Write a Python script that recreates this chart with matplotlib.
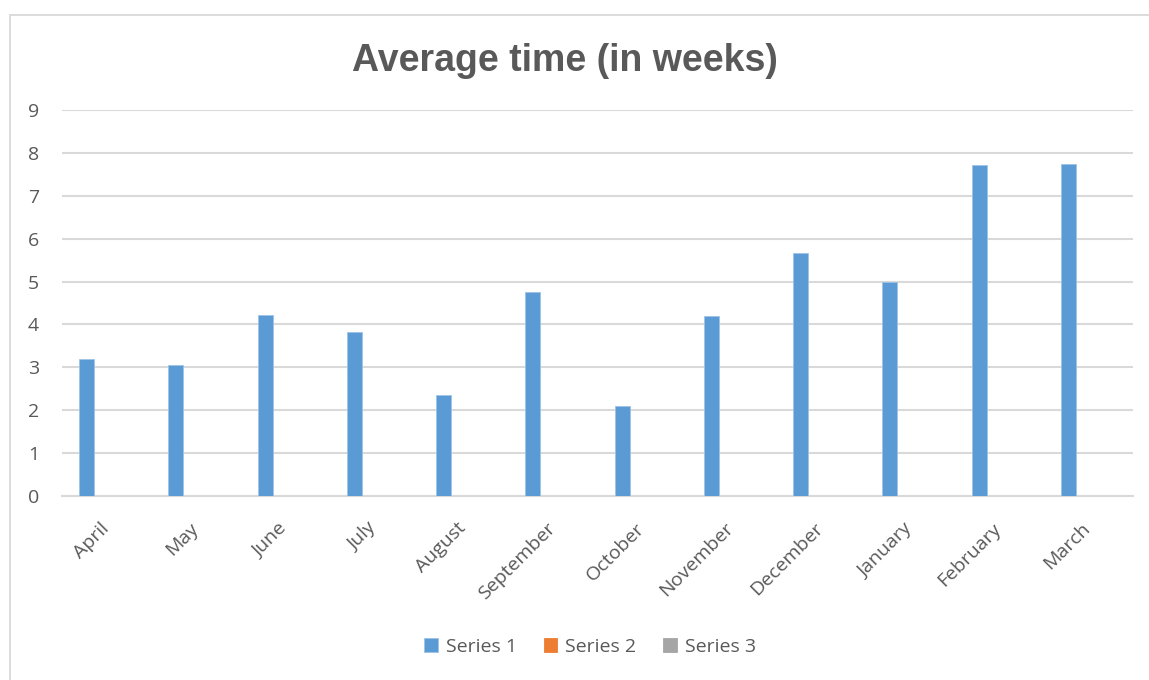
import numpy as np
import matplotlib
matplotlib.use("Agg")
from matplotlib import pyplot as plt
from matplotlib.patches import Rectangle
from matplotlib.transforms import ScaledTranslation

# data
months = ['April', 'May', 'June', 'July', 'August', 'September',
          'October', 'November', 'December', 'January', 'February', 'March']
series1 = [3.19, 3.05, 4.23, 3.82, 2.35, 4.76, 2.10, 4.20, 5.66, 5.00, 7.72, 7.75]
series2 = [0] * 12
series3 = [0] * 12
series_names = ['Series 1', 'Series 2', 'Series 3']
colors = ['#5B9BD5', '#ED7D31', '#A5A5A5']
yticks = [0, 1, 2, 3, 4, 5, 6, 7, 8, 9]

plt.rcParams['font.family'] = ['Open Sans', 'DejaVu Sans']
txt = '#595959'
grid = '#d9d9d9'

fig = plt.figure(figsize=(11.49, 6.8), dpi=100)
fig.patches.append(Rectangle((9.5/1149, -0.01), 1.02, 1 - 14.5/680 + 0.01,
                             transform=fig.transFigure, fill=False,
                             edgecolor=grid, linewidth=1.3))
ax = fig.add_axes([62/1149, 1 - 495.7/680, (1133-62)/1149, (495.7-110.3)/680])

x = np.arange(len(months))
w = 0.168
step = 0.223
for i, (vals, name) in enumerate(zip([series1, series2, series3], series_names)):
    ax.bar(x + (i - 1) * step, vals, width=w, color=colors[i], label=name,
           edgecolor='#9dc3e6' if i == 0 else colors[i], linewidth=0.6, zorder=3)

ax.set_xlim(-0.5, len(months) - 0.5)
ax.set_ylim(0, 9)
ax.set_yticks(yticks)
ax.yaxis.grid(True, color=grid, linewidth=1.5, zorder=0)
for s in ['top', 'right', 'left']:
    ax.spines[s].set_visible(False)
ax.spines['bottom'].set_color(grid)
ax.spines['bottom'].set_linewidth(1.5)
ax.tick_params(axis='both', length=0, colors=txt, labelsize=14)
ax.tick_params(axis='y', pad=16.5)
ax.set_xticks(x)
ax.set_xticklabels(months, rotation=45, ha='right', va='top',
                   rotation_mode='anchor')
ax.tick_params(axis='x', pad=17)
shift = ScaledTranslation(-7/100, 0, fig.dpi_scale_trans)
for lab in ax.get_xticklabels():
    lab.set_transform(lab.get_transform() + shift)

fig.text(565/1149, 1 - 61/680, 'Average time (in weeks)', ha='center', va='center',
         fontsize=27, fontweight='bold', color=txt, family=['Liberation Sans', 'DejaVu Sans'])

leg = fig.legend(loc='center', bbox_to_anchor=(590/1149, 1 - 647/680), ncol=3,
                 frameon=False, fontsize=14, handlelength=0.7, handleheight=0.7,
                 handletextpad=0.4, columnspacing=1.4)
for t in leg.get_texts():
    t.set_color(txt)

fig.savefig('out.png', dpi=100)
